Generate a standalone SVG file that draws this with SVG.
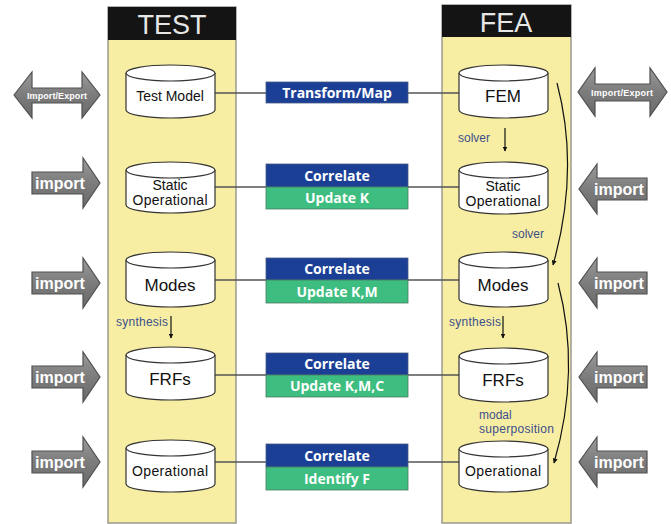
<svg xmlns="http://www.w3.org/2000/svg" width="671" height="524" viewBox="0 0 671 524">
<defs>
<marker id="ah" viewBox="0 0 10 10" refX="9" refY="5" markerWidth="5" markerHeight="5" orient="auto" markerUnits="userSpaceOnUse">
<path d="M0,0 L10,5 L0,10 z" fill="#111"/>
</marker>
<linearGradient id="ag" x1="0" y1="0" x2="0" y2="1">
<stop offset="0" stop-color="#9a9a9a"/>
<stop offset="0.5" stop-color="#7c7c7c"/>
<stop offset="1" stop-color="#6a6a6a"/>
</linearGradient>
</defs>
<style>
.col{fill:#f8eea3;stroke:#9a9a90;stroke-width:1.5}
.hdr{fill:#141414}
.htxt{font-family:"Liberation Sans",Arial,sans-serif;font-size:27px;fill:#e6e6e6;text-anchor:middle}
.cyl{fill:#fff;stroke:#333;stroke-width:1.2}
.ctxt{font-family:"Liberation Sans",Arial,sans-serif;font-size:14px;fill:#111;text-anchor:middle}
.big{font-size:17px}
.arr{fill:url(#ag);stroke:#505050;stroke-width:1.2}
.atxt{font-family:"Liberation Sans",Arial,sans-serif;font-weight:bold;fill:#fff;text-anchor:middle}
.blue{fill:#1c3f96;stroke:#4a5a80;stroke-width:0.8}
.green{fill:#3dbd80;stroke:#4a7a60;stroke-width:0.8}
.btxt{font-family:"Open Sans","DejaVu Sans",sans-serif;font-weight:bold;font-size:14px;fill:#fff;text-anchor:middle}
.lbl{font-family:"Liberation Sans",Arial,sans-serif;font-size:12px;fill:#3d4f8c}
.conn{stroke:#555;stroke-width:1.5;fill:none}
.flow{stroke:#111;stroke-width:1.2;fill:none}
</style>
<rect width="671" height="524" fill="#fff"/>

<g id="col-test">
<rect class="col" x="108" y="7" width="128" height="516"/>
<rect class="hdr" x="108" y="7" width="128" height="33"/>
<text class="htxt" x="172" y="34">TEST</text>
</g>
<g id="col-fea">
<rect class="col" x="442" y="5" width="129" height="518"/>
<rect class="hdr" x="442" y="5" width="129" height="32"/>
<text class="htxt" x="506" y="32">FEA</text>
</g>

<g id="connectors">
<line class="conn" x1="215" y1="93" x2="459" y2="93"/>
<line class="conn" x1="215" y1="187" x2="459" y2="187"/>
<line class="conn" x1="215" y1="280" x2="459" y2="280"/>
<line class="conn" x1="215" y1="375" x2="459" y2="375"/>
<line class="conn" x1="215" y1="462" x2="459" y2="462"/>
<line class="flow" x1="505" y1="128" x2="505" y2="151" marker-end="url(#ah)"/>
<line class="flow" x1="171" y1="316" x2="171" y2="338" marker-end="url(#ah)"/>
<line class="flow" x1="503" y1="316" x2="503" y2="338" marker-end="url(#ah)"/>
<path class="flow" d="M557,83 Q580,170 553,265" marker-end="url(#ah)"/>
<path class="flow" d="M558,283 Q581,370 554,463" marker-end="url(#ah)"/>
<text class="lbl" x="458" y="142">solver</text>
<text class="lbl" x="512" y="238">solver</text>
<text class="lbl" x="116" y="326" font-size="11" textLength="52">synthesis</text>
<text class="lbl" x="449" y="326" font-size="11" textLength="52">synthesis</text>
<text class="lbl" x="479" y="419" font-size="11">modal</text>
<text class="lbl" x="479" y="433" font-size="11" textLength="75">superposition</text>
</g>

<g id="box-transform">
<rect class="blue" x="266" y="82" width="142" height="21"/>
<text class="btxt" x="337" y="97.5">Transform/Map</text>
</g>
<g id="box-static">
<rect class="blue" x="266" y="164" width="142" height="23"/>
<rect class="green" x="266" y="187" width="142" height="22"/>
<text class="btxt" x="337" y="180.5">Correlate</text>
<text class="btxt" x="337" y="203">Update K</text>
</g>
<g id="box-modes">
<rect class="blue" x="266" y="258" width="142" height="22"/>
<rect class="green" x="266" y="280" width="142" height="23"/>
<text class="btxt" x="337" y="274">Correlate</text>
<text class="btxt" x="337" y="297">Update K,M</text>
</g>
<g id="box-frfs">
<rect class="blue" x="266" y="353" width="142" height="22"/>
<rect class="green" x="266" y="375" width="142" height="22"/>
<text class="btxt" x="337" y="369">Correlate</text>
<text class="btxt" x="337" y="391">Update K,M,C</text>
</g>
<g id="box-oper">
<rect class="blue" x="266" y="444" width="142" height="23"/>
<rect class="green" x="266" y="467" width="142" height="23"/>
<text class="btxt" x="337" y="461">Correlate</text>
<text class="btxt" x="337" y="484">Identify F</text>
</g>

<g id="t-model">
<path class="cyl" d="M126,73 a44.5,8 0 0 1 89,0 v37 a44.5,8 0 0 1 -89,0 z"/>
<path class="cyl" fill="none" d="M126,73 a44.5,8 0 0 0 89,0"/>
<text class="ctxt" x="170" y="101">Test Model</text>
</g>
<g id="t-static">
<path class="cyl" d="M126,170 a44.5,8 0 0 1 89,0 v35 a44.5,8 0 0 1 -89,0 z"/>
<path class="cyl" fill="none" d="M126,170 a44.5,8 0 0 0 89,0"/>
<text class="ctxt" x="170" y="190" font-size="13">Static</text>
<text class="ctxt" x="170" y="205" font-size="13" textLength="75">Operational</text>
</g>
<g id="t-modes">
<path class="cyl" d="M126,260 a44.5,8 0 0 1 89,0 v39 a44.5,8 0 0 1 -89,0 z"/>
<path class="cyl" fill="none" d="M126,260 a44.5,8 0 0 0 89,0"/>
<text class="ctxt big" x="170" y="291">Modes</text>
</g>
<g id="t-frfs">
<path class="cyl" d="M126,355 a44.5,8 0 0 1 89,0 v37 a44.5,8 0 0 1 -89,0 z"/>
<path class="cyl" fill="none" d="M126,355 a44.5,8 0 0 0 89,0"/>
<text class="ctxt big" x="170" y="385">FRFs</text>
</g>
<g id="t-oper">
<path class="cyl" d="M126,448 a44.5,8 0 0 1 89,0 v36 a44.5,8 0 0 1 -89,0 z"/>
<path class="cyl" fill="none" d="M126,448 a44.5,8 0 0 0 89,0"/>
<text class="ctxt" x="170" y="476" textLength="76">Operational</text>
</g>

<g id="f-fem">
<path class="cyl" d="M459,73 a44.5,8 0 0 1 89,0 v37 a44.5,8 0 0 1 -89,0 z"/>
<path class="cyl" fill="none" d="M459,73 a44.5,8 0 0 0 89,0"/>
<text class="ctxt big" x="503" y="102">FEM</text>
</g>
<g id="f-static">
<path class="cyl" d="M459,170 a44.5,8 0 0 1 89,0 v36 a44.5,8 0 0 1 -89,0 z"/>
<path class="cyl" fill="none" d="M459,170 a44.5,8 0 0 0 89,0"/>
<text class="ctxt" x="503" y="191" font-size="13">Static</text>
<text class="ctxt" x="503" y="206" font-size="13" textLength="75">Operational</text>
</g>
<g id="f-modes">
<path class="cyl" d="M459,260 a44.5,8 0 0 1 89,0 v39 a44.5,8 0 0 1 -89,0 z"/>
<path class="cyl" fill="none" d="M459,260 a44.5,8 0 0 0 89,0"/>
<text class="ctxt big" x="503" y="291">Modes</text>
</g>
<g id="f-frfs">
<path class="cyl" d="M459,356 a44.5,8 0 0 1 89,0 v38 a44.5,8 0 0 1 -89,0 z"/>
<path class="cyl" fill="none" d="M459,356 a44.5,8 0 0 0 89,0"/>
<text class="ctxt big" x="503" y="386">FRFs</text>
</g>
<g id="f-oper">
<path class="cyl" d="M459,449 a44.5,8 0 0 1 89,0 v35 a44.5,8 0 0 1 -89,0 z"/>
<path class="cyl" fill="none" d="M459,449 a44.5,8 0 0 0 89,0"/>
<text class="ctxt" x="503" y="476" textLength="76">Operational</text>
</g>

<g id="l-ie">
<polygon class="arr" points="14,95 32,72 32,88 82,88 82,72 100,95 82,118 82,103 32,103 32,118"/>
<text class="atxt" x="57" y="99" font-size="9" textLength="60">Import/Export</text>
</g>
<g id="l-imp1">
<polygon class="arr" points="32,172 83,172 83,158 100,183 83,208 83,194 32,194"/>
<text class="atxt" x="60" y="189" font-size="16">import</text>
</g>
<g id="l-imp2">
<polygon class="arr" points="32,272 83,272 83,258 100,283 83,308 83,294 32,294"/>
<text class="atxt" x="60" y="289" font-size="16">import</text>
</g>
<g id="l-imp3">
<polygon class="arr" points="32,366 83,366 83,352 100,377 83,402 83,388 32,388"/>
<text class="atxt" x="60" y="383" font-size="16">import</text>
</g>
<g id="l-imp4">
<polygon class="arr" points="32,451 83,451 83,437 100,462 83,487 83,473 32,473"/>
<text class="atxt" x="60" y="468" font-size="16">import</text>
</g>

<g id="r-ie">
<polygon class="arr" points="578,92 595,68 595,84 650,84 650,68 667,92 650,116 650,101 595,101 595,116"/>
<text class="atxt" x="622" y="96" font-size="9" textLength="62">Import/Export</text>
</g>
<g id="r-imp1">
<polygon class="arr" points="647,178 597,178 597,164 579,189 597,214 597,200 647,200"/>
<text class="atxt" x="619" y="195" font-size="16">import</text>
</g>
<g id="r-imp2">
<polygon class="arr" points="647,272 597,272 597,258 579,283 597,308 597,294 647,294"/>
<text class="atxt" x="619" y="289" font-size="16">import</text>
</g>
<g id="r-imp3">
<polygon class="arr" points="647,366 597,366 597,352 579,377 597,402 597,388 647,388"/>
<text class="atxt" x="619" y="383" font-size="16">import</text>
</g>
<g id="r-imp4">
<polygon class="arr" points="647,451 597,451 597,437 579,462 597,487 597,473 647,473"/>
<text class="atxt" x="619" y="468" font-size="16">import</text>
</g>
</svg>
